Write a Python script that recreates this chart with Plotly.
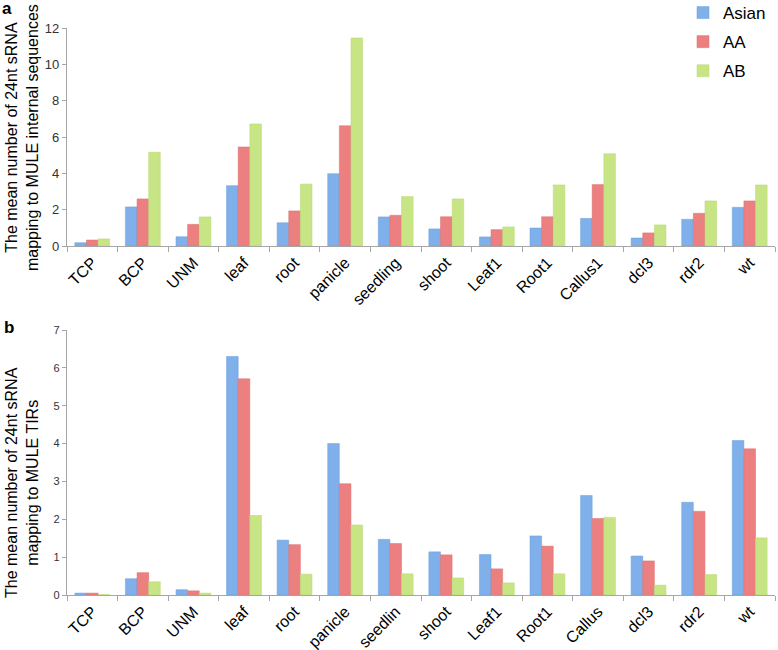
import plotly.graph_objects as go

cats_a = ["TCP", "BCP", "UNM", "leaf", "root", "panicle", "seedling", "shoot",
          "Leaf1", "Root1", "Callus1", "dcl3", "rdr2", "wt"]
asian_a = [0.18, 2.15, 0.51, 3.32, 1.28, 3.98, 1.60, 0.94, 0.50, 0.99, 1.52, 0.44, 1.47, 2.13]
aa_a = [0.33, 2.59, 1.19, 5.45, 1.93, 6.62, 1.69, 1.61, 0.90, 1.61, 3.38, 0.72, 1.80, 2.48]
ab_a = [0.39, 5.16, 1.60, 6.72, 3.41, 11.45, 2.72, 2.59, 1.05, 3.36, 5.08, 1.16, 2.48, 3.36]

cats_b = ["TCP", "BCP", "UNM", "leaf", "root", "panicle", "seedlin", "shoot",
          "Leaf1", "Root1", "Callus", "dcl3", "rdr2", "wt"]
asian_b = [0.05, 0.43, 0.14, 6.30, 1.45, 4.00, 1.47, 1.14, 1.07, 1.56, 2.63, 1.03, 2.45, 4.08]
aa_b = [0.05, 0.59, 0.11, 5.71, 1.33, 2.94, 1.36, 1.06, 0.69, 1.29, 2.02, 0.90, 2.21, 3.86]
ab_b = [0.01, 0.35, 0.05, 2.10, 0.55, 1.85, 0.56, 0.45, 0.32, 0.56, 2.05, 0.26, 0.54, 1.51]

series_names = ["Asian", "AA", "AB"]
colors = ["#7fb0ea", "#ec8080", "#c8e585"]
line_colors = ["#6a9fdd", "#dd6c6c", "#b6d872"]

yticks_a = [0, 2, 4, 6, 8, 10, 12]
yticks_b = [0, 1, 2, 3, 4, 5, 6, 7]

FONT = "Arial, Liberation Sans, sans-serif"

fig = go.Figure()
for name, vals, c, lc in zip(series_names, [asian_a, aa_a, ab_a], colors, line_colors):
    fig.add_trace(go.Bar(x=cats_a, y=vals, name=name, marker_color=c,
                         marker_line_color=lc, marker_line_width=0.5,
                         xaxis="x", yaxis="y", legendgroup=name))
for name, vals, c, lc in zip(series_names, [asian_b, aa_b, ab_b], colors, line_colors):
    fig.add_trace(go.Bar(x=cats_b, y=vals, name=name, marker_color=c,
                         marker_line_color=lc, marker_line_width=0.5,
                         xaxis="x2", yaxis="y2", legendgroup=name, showlegend=False))

W, H = 778, 650
xdom = [67 / W, 775 / W]
ax_common = dict(showline=True, linecolor="#a6a6a6", linewidth=1.2, showgrid=False,
                 zeroline=False, ticks="outside", tickcolor="#a6a6a6")

fig.update_layout(
    width=W, height=H,
    margin=dict(l=0, r=0, t=0, b=0, autoexpand=False),
    paper_bgcolor="white", plot_bgcolor="white",
    barmode="group", bargap=0.31, bargroupgap=0,
    font=dict(family=FONT, color="black"),
    xaxis=dict(domain=xdom, anchor="y", tickson="boundaries", ticklen=5,
               tickangle=-45, tickfont=dict(size=16, color="black"), **ax_common),
    yaxis=dict(domain=[1 - 246 / H, 1 - 28 / H], range=[0, 12], tickvals=yticks_a,
               ticklen=4, tickfont=dict(size=13, color="#333333"), anchor="x", **ax_common),
    xaxis2=dict(domain=xdom, anchor="y2", tickson="boundaries", ticklen=5,
                tickangle=-45, tickfont=dict(size=16, color="black"), **ax_common),
    yaxis2=dict(domain=[1 - 595 / H, 1 - 330 / H], range=[0, 7], tickvals=yticks_b,
                ticklen=4, tickfont=dict(size=11, color="#333333"), anchor="x2", **ax_common),
    legend=dict(x=683 / W, y=1 + 5 / H, xanchor="left", yanchor="top",
                font=dict(size=17, family=FONT, color="black"),
                bgcolor="rgba(0,0,0,0)", tracegroupgap=4, itemwidth=30),
    showlegend=True,
)

annos = [
    dict(text="<b>a</b>", x=0, y=1 + 3 / H, xanchor="left", yanchor="top", font=dict(size=17)),
    dict(text="<b>b</b>", x=2 / W, y=1 - 327 / H, xanchor="left", yanchor="middle", font=dict(size=17)),
    dict(text="The mean number of 24nt sRNA<br>mapping to MULE internal sequences",
         x=22 / W, y=1 - 138 / H, xanchor="center", yanchor="middle", textangle=-90,
         font=dict(size=16)),
    dict(text="The mean number of 24nt sRNA<br>mapping to MULE TIRs",
         x=22 / W, y=1 - 483 / H, xanchor="center", yanchor="middle", textangle=-90,
         font=dict(size=16)),
]
for a in annos:
    fig.add_annotation(xref="paper", yref="paper", showarrow=False, **a)

fig.write_html("out.html", config={"displayModeBar": False},
               post_script="document.body.style.margin='0';document.body.style.overflow='hidden';")
